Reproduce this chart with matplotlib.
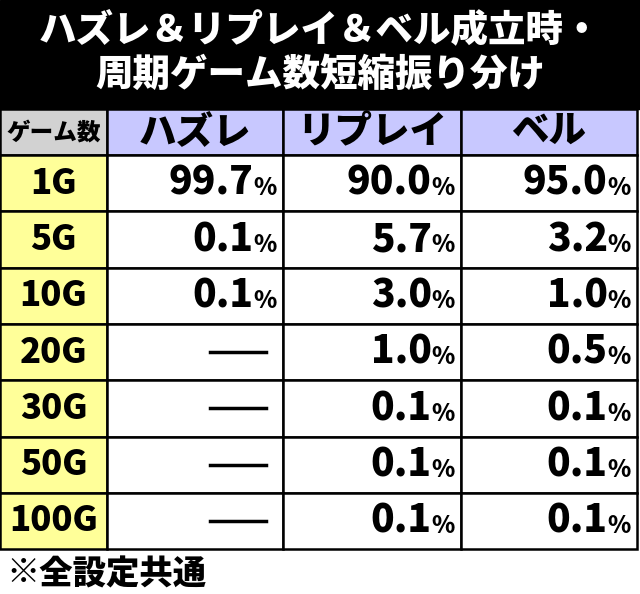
import matplotlib
matplotlib.use("Agg")
import matplotlib.pyplot as plt
from matplotlib.patches import Rectangle

plt.rcParams['font.family'] = ['Noto Sans CJK JP', 'DejaVu Sans']

title_lines = ["ハズレ＆リプレイ＆ベル成立時・", "周期ゲーム数短縮振り分け"]
headers = ["ゲーム数", "ハズレ", "リプレイ", "ベル"]
games = ["1G", "5G", "10G", "20G", "30G", "50G", "100G"]
hazure = ["99.7", "0.1", "0.1", None, None, None, None]
replay = ["90.0", "5.7", "3.0", "1.0", "0.1", "0.1", "0.1"]
bell = ["95.0", "3.2", "1.0", "0.5", "0.1", "0.1", "0.1"]
note = "※全設定共通"

W, H = 640, 594
fig = plt.figure(figsize=(W / 100, H / 100), dpi=100)
ax = fig.add_axes([0, 0, 1, 1])
ax.set_xlim(0, W)
ax.set_ylim(H, 0)
ax.axis("off")

# title band
ax.add_patch(Rectangle((0, 0), W, 109, color="black"))
ax.text(W / 2, 30, title_lines[0], color="white", fontsize=27, fontweight="heavy", ha="center", va="center")
ax.text(W / 2, 75, title_lines[1], color="white", fontsize=27, fontweight="heavy", ha="center", va="center")

cols = [0, 107, 283, 461, 637]
top, head_bot, row_h = 109, 155, 56.3

for i, h in enumerate(headers):
    fc = "#d2d2d2" if i == 0 else "#c8c8ff"
    ax.add_patch(Rectangle((cols[i], top), cols[i + 1] - cols[i], head_bot - top, fc=fc, ec="black", lw=1.8))
    fs = 17 if i == 0 else 27
    ax.text((cols[i] + cols[i + 1]) / 2, (top + head_bot) / 2, h, fontsize=fs, fontweight="heavy", ha="center", va="center")

fig.canvas.draw()
renderer = fig.canvas.get_renderer()

def pct(x_right, yc, val):
    t = ax.text(x_right, yc + 5, "%", fontsize=17, fontweight="heavy", ha="right", va="center")
    bb = t.get_window_extent(renderer)
    x0 = ax.transData.inverted().transform((bb.x0, bb.y0))[0]
    ax.text(x0, yc, val, fontsize=28, fontweight="heavy", ha="right", va="center")

for r, g in enumerate(games):
    y0 = head_bot + r * row_h
    yc = y0 + row_h / 2
    ax.add_patch(Rectangle((cols[0], y0), cols[1] - cols[0], row_h, fc="#ffff99", ec="black", lw=1.8))
    for c in range(1, 4):
        ax.add_patch(Rectangle((cols[c], y0), cols[c + 1] - cols[c], row_h, fc="white", ec="black", lw=1.8))
    ax.text((cols[0] + cols[1]) / 2, yc, g, fontsize=25, fontweight="heavy", ha="center", va="center")
    for c, series in zip([1, 2, 3], [hazure, replay, bell]):
        v = series[r]
        if v is None:
            ax.plot([210, 266], [yc, yc], color="black", lw=2.5)
        else:
            pct(cols[c + 1] - 6, yc, v)

ax.text(6, 574, note, fontsize=24, fontweight="heavy", ha="left", va="center")

fig.savefig("out.png", dpi=100)
